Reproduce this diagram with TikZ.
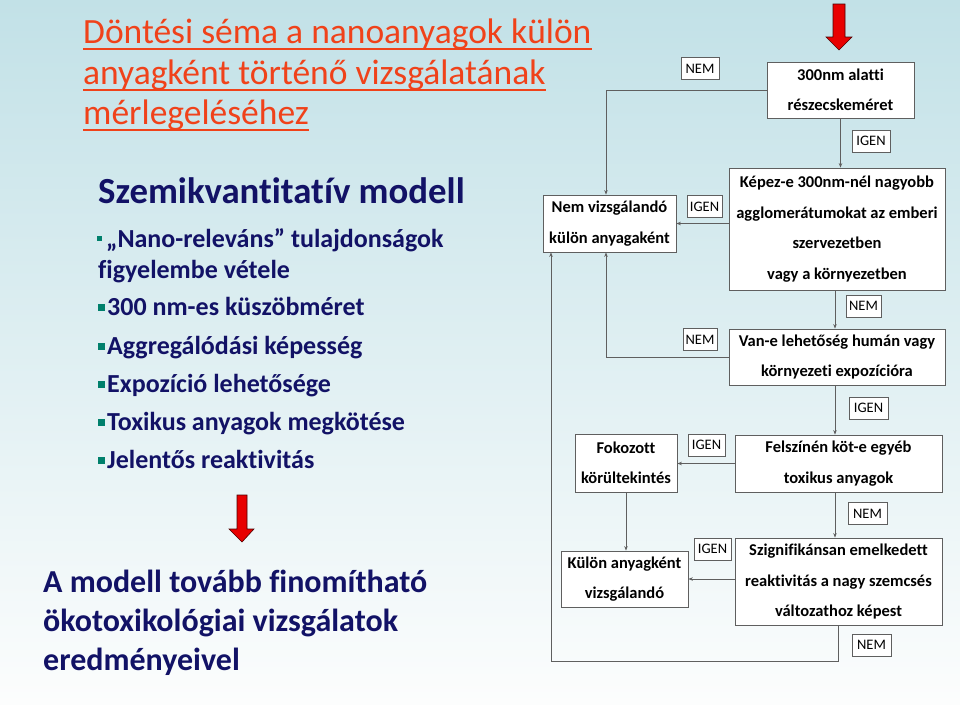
\documentclass[tikz,border=0pt]{standalone}
\usepackage{fontspec}
\setmainfont{Carlito}[Ligatures=NoCommon]
\usetikzlibrary{arrows.meta, positioning, calc}
\definecolor{SlideTop}{RGB}{194,225,231}
\definecolor{SlideBottom}{RGB}{252,253,253}
\definecolor{TitleRed}{RGB}{240,66,26}
\definecolor{DeepNavy}{RGB}{18,18,102}
\definecolor{BulletTeal}{RGB}{0,128,108}
\definecolor{LineGray}{RGB}{95,95,95}
\definecolor{ArrowRed}{RGB}{232,0,0}

\begin{document}
\begin{tikzpicture}[x=1pt, y=-1pt, >={Stealth[length=4.5pt,width=3.5pt]},
    flowbox/.style={draw=LineGray, fill=white, line width=0.8pt, align=center, inner sep=0pt,
        font=\fontsize{16.5}{30.5}\selectfont\bfseries},
    answer/.style={draw=LineGray, fill=white, line width=0.7pt, inner sep=0pt, minimum height=22pt,
        font=\fontsize{14.5}{16}\selectfont},
    conn/.style={->, color=LineGray, line width=0.8pt},
    titleline/.style={anchor=base west, inner sep=0pt, color=TitleRed, font=\fontsize{35.5}{41}\selectfont},
    leftline/.style={anchor=base west, inner sep=0pt, color=DeepNavy, font=\fontsize{26}{31}\selectfont\bfseries},
    bottomline/.style={anchor=base west, inner sep=0pt, color=DeepNavy, font=\fontsize{32}{39}\selectfont\bfseries},
    bigarrow/.style={fill=ArrowRed, draw=black!70!red, line width=0.6pt}]

    % 1. Slide background
    \fill[top color=SlideTop, bottom color=SlideBottom] (0,0) rectangle (960,704);

    % 2. Title (underlined)
    \node[titleline] (title1) at (83,43) {Döntési séma a nanoanyagok külön};
    \node[titleline] (title2) at (83,84) {anyagként történő vizsgálatának};
    \node[titleline] (title3) at (83,124) {mérlegeléséhez};
    \draw[TitleRed, line width=2.4pt] ([yshift=-6pt]title1.base west) -- ([yshift=-6pt]title1.base east);
    \draw[TitleRed, line width=2.4pt] ([yshift=-6pt]title2.base west) -- ([yshift=-6pt]title2.base east);
    \draw[TitleRed, line width=2.4pt] ([yshift=-6pt]title3.base west) -- ([yshift=-6pt]title3.base east);

    % 3. Model description on the left
    \node[anchor=base west, inner sep=0pt, color=DeepNavy, font=\fontsize{36.8}{44}\selectfont\bfseries]
        (model) at (98,203) {Szemikvantitatív modell};
    \fill[BulletTeal] (97,236) rectangle (102,241);
    \node[leftline] (nano) at (106,247) {„Nano-releváns” tulajdonságok};
    \node[leftline] (nanob) at (98,278) {figyelembe vétele};
    \foreach \y/\txt in {315/300 nm-es küszöbméret, 354/Aggregálódási képesség,
        392/Expozíció lehetősége, 430/Toxikus anyagok megkötése, 468/Jelentős reaktivitás} {
        \fill[BulletTeal] (98,\y-11) rectangle (105,\y-4);
        \node[leftline] (item\y) at (107,\y) {\txt};
    }

    % 4. Red arrows
    \draw[bigarrow] (833,4) -- (845,4) -- (845,37) -- (852,37) -- (839,50) -- (826,37) -- (833,37) -- cycle;
    \draw[bigarrow] (237,495) -- (247,495) -- (247,529) -- (254,529) -- (242,542) -- (229,529) -- (237,529) -- cycle;

    % 5. Closing remark
    \node[bottomline] (refine1) at (43,592) {A modell tovább finomítható};
    \node[bottomline] (refine2) at (43,631) {ökotoxikológiai vizsgálatok};
    \node[bottomline] (refine3) at (43,670) {eredményeivel};

    % -------------------------------------------------------------
    % DECISION BOXES
    % -------------------------------------------------------------
    \node[flowbox, minimum width=147pt, minimum height=56pt] (size) at (840.5,90)
        {300nm alatti\\részecskeméret};
    \node[flowbox, minimum width=216pt, minimum height=122pt] (agglo) at (837,229)
        {Képez-e 300nm-nél nagyobb\\agglomerátumokat az emberi\\szervezetben\\vagy a környezetben};
    \node[flowbox, minimum width=133pt, minimum height=57pt] (notest) at (609.5,223.5)
        {Nem vizsgálandó\\külön anyagaként};
    \node[flowbox, minimum width=216pt, minimum height=56pt] (expo) at (837,357)
        {Van-e lehetőség humán vagy\\környezeti expozícióra};
    \node[flowbox, minimum width=207pt, minimum height=57pt] (toxic) at (838.5,463.5)
        {Felszínén köt-e egyéb\\toxikus anyagok};
    \node[flowbox, minimum width=102pt, minimum height=58pt] (care) at (626,463)
        {Fokozott\\körültekintés};
    \node[flowbox, minimum width=127pt, minimum height=56pt] (test) at (624.5,579)
        {Külön anyagként\\vizsgálandó};
    \node[flowbox, minimum width=207pt, minimum height=87pt] (react) at (838.5,581.5)
        {Szignifikánsan emelkedett\\reaktivitás a nagy szemcsés\\változathoz képest};

    % -------------------------------------------------------------
    % CONNECTORS
    % -------------------------------------------------------------
    \draw[conn] (size.west) -| ([xshift=-3.5pt]notest.north);
    \draw[conn] (size.south) -- (size.south |- agglo.north);
    \draw[conn] (notest.east -| agglo.west) -- (notest.east);
    \draw[conn] ([xshift=-2pt]agglo.south) -- ([xshift=-2pt]expo.north);
    \draw[conn] (expo.west) -| ([xshift=-3.5pt]notest.south);
    \draw[conn] ([xshift=-2pt]expo.south) -- ([xshift=-2pt]expo.south |- toxic.north);
    \draw[conn] (toxic.west) -- (care.east |- toxic.west);
    \draw[conn] ([xshift=-3.5pt]toxic.south) -- ([xshift=-3.5pt]toxic.south |- react.north);
    \draw[conn] (care.south) -- (care.south |- test.north);
    \draw[conn] (test.east -| react.west) -- (test.east);
    \coordinate (loopcorner) at (551,661);
    \draw[conn] (react.south) |- (loopcorner) -- (loopcorner |- notest.south);

    % -------------------------------------------------------------
    % ANSWER LABELS
    % -------------------------------------------------------------
    \node[answer, minimum width=38pt] (nem1) at (700,68.5) {NEM};
    \node[answer, minimum width=38pt] (igen1) at (871,141) {IGEN};
    \node[answer, minimum width=35pt] (igen2) at (704.5,206.5) {IGEN};
    \node[answer, minimum width=35pt] (nem2) at (863.5,306) {NEM};
    \node[answer, minimum width=34pt] (nem3) at (700,339.5) {NEM};
    \node[answer, minimum width=39pt] (igen3) at (868.5,408) {IGEN};
    \node[answer, minimum width=37pt] (igen4) at (706.5,445) {IGEN};
    \node[answer, minimum width=39pt] (nem4) at (867.5,513.5) {NEM};
    \node[answer, minimum width=37pt] (igen5) at (712.5,549) {IGEN};
    \node[answer, minimum width=39pt] (nem5) at (871.5,645) {NEM};
\end{tikzpicture}
\end{document}
